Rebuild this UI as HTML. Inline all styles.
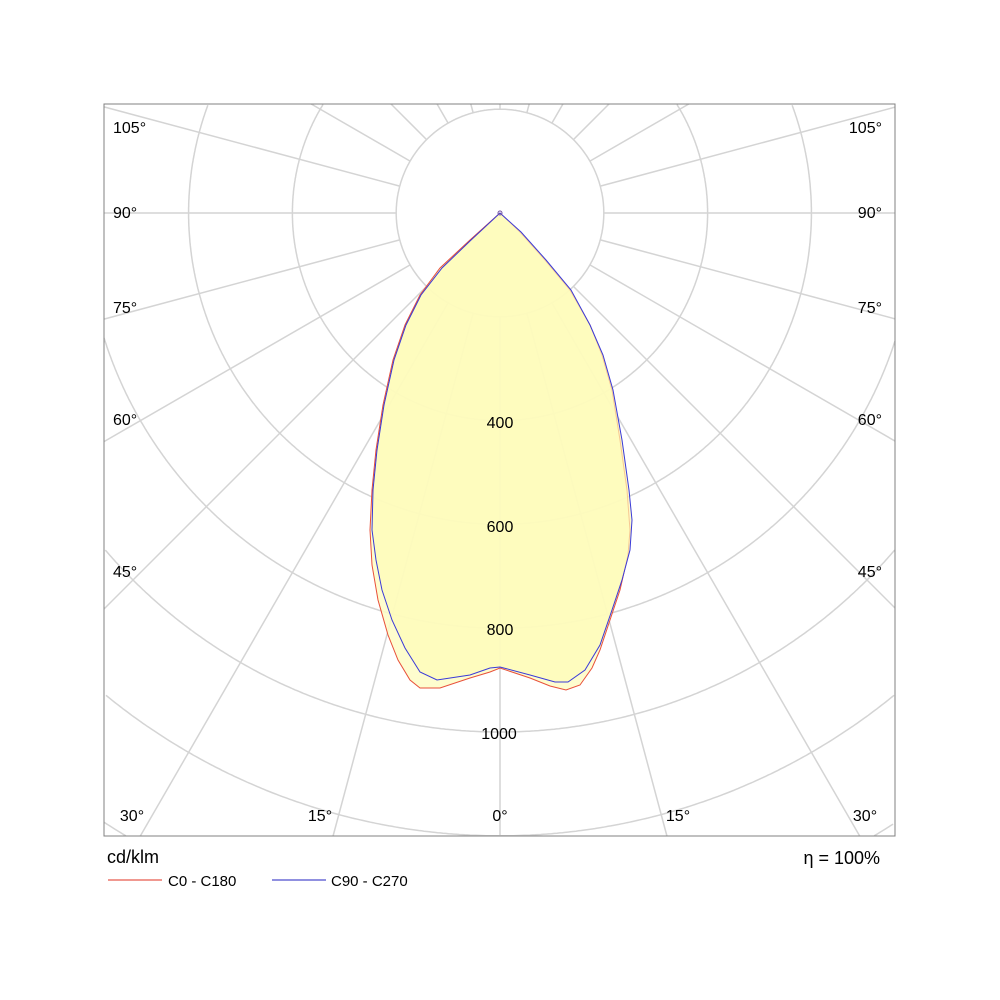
<!DOCTYPE html>
<html><head><meta charset="utf-8"><style>
html,body{margin:0;padding:0;background:#fff;width:1000px;height:1000px;overflow:hidden;}
svg{display:block;overflow:hidden;}
text{font-family:"Liberation Sans",Arial,sans-serif;fill:#000;}
</style></head><body>
<svg id="s" width="1000" height="1000" viewBox="0 0 1000 1000" xmlns="http://www.w3.org/2000/svg">
<g id="grid" stroke="#d4d4d4" stroke-width="1.5" fill="none"></g>
<g>
<path fill="#fefdc6" fill-opacity="0.85" stroke="#e8503a" stroke-width="1" d="M500,213 L470,240 L440,268 L420,295 L405,325 L393,360 L383,405 L376,450 L372,490 L370,530 L372,565 L378,600 L388,635 L398,660 L410,680 L420,688 L440,688 L470,678 L490,672 L500,668 L530,678 L550,686 L566,690 L580,685 L592,668 L600,650 L610,620 L620,590 L628,555 L630,530 L627,490 L620,440 L612,390 L602,355 L590,325 L570,290 L545,260 L520,232 Z"/>
<path fill="#fdfbb8" fill-opacity="0.7" stroke="#3a3ad8" stroke-width="1" d="M500,213 L470,241 L442,268 L421,295 L406,325 L394,360 L384,405 L377,450 L373,490 L372,530 L376,560 L382,590 L392,620 L405,648 L420,672 L437,680 L470,675 L490,668 L500,667 L530,675 L555,682 L568,682 L585,670 L600,645 L612,610 L622,580 L630,550 L632,520 L629,490 L622,440 L613,390 L603,355 L590,325 L571,290 L546,260 L521,232 Z"/>
</g>
<rect x="104" y="104" width="791" height="732" fill="none" stroke="#808080" stroke-width="1"/>
<circle cx="500" cy="213" r="2" fill="none" stroke="#7050a0"/>
<g font-size="16" text-anchor="middle">
<text x="500" y="428">400</text><text x="500" y="532">600</text><text x="500" y="635">800</text><text x="499" y="739">1000</text>
</g>
<g font-size="16">
<text x="113" y="133">105°</text><text x="113" y="218">90°</text><text x="113" y="313">75°</text><text x="113" y="425">60°</text><text x="113" y="577">45°</text>
<text x="882" y="133" text-anchor="end">105°</text><text x="882" y="218" text-anchor="end">90°</text><text x="882" y="313" text-anchor="end">75°</text><text x="882" y="425" text-anchor="end">60°</text><text x="882" y="577" text-anchor="end">45°</text>
<text x="132" y="821" text-anchor="middle">30°</text><text x="320" y="821" text-anchor="middle">15°</text><text x="500" y="821" text-anchor="middle">0°</text><text x="678" y="821" text-anchor="middle">15°</text><text x="865" y="821" text-anchor="middle">30°</text>
</g>
<text x="107" y="863" font-size="18">cd/klm</text>
<text x="880" y="864" font-size="18" text-anchor="end">η =  100%</text>
<line x1="108" y1="880" x2="162" y2="880" stroke="#e03020" stroke-width="1"/>
<text x="168" y="886" font-size="15">C0 - C180</text>
<line x1="272" y1="880" x2="326" y2="880" stroke="#2020c0" stroke-width="1"/>
<text x="331" y="886" font-size="15">C90 - C270</text>
</svg>
<script>
var g=document.getElementById('grid'),ns='http://www.w3.org/2000/svg',cx=500,cy=213,u=103.8;
var X0=104,X1=895,Y0=104,Y1=836;
function inside(x,y){return x>=X0&&x<=X1&&y>=Y0&&y<=Y1;}
for(var i=1;i<=9;i++){
  var r=u*i,segs=[],cur=[];
  for(var k=0;k<=1440;k++){var t=k/1440*2*Math.PI,x=cx+r*Math.sin(t),y=cy+r*Math.cos(t);
    if(inside(x,y)){cur.push(x.toFixed(1)+','+y.toFixed(1));}else{if(cur.length>1)segs.push(cur);cur=[];}}
  if(cur.length>1)segs.push(cur);
  segs.forEach(function(s){var p=document.createElementNS(ns,'polyline');p.setAttribute('points',s.join(' '));g.appendChild(p);});
}
for(var a=0;a<360;a+=15){var t=a*Math.PI/180,dx=Math.sin(t),dy=Math.cos(t);
  var tm=1e9;
  if(dx>1e-9)tm=Math.min(tm,(X1-cx)/dx);if(dx<-1e-9)tm=Math.min(tm,(X0-cx)/dx);
  if(dy>1e-9)tm=Math.min(tm,(Y1-cy)/dy);if(dy<-1e-9)tm=Math.min(tm,(Y0-cy)/dy);
  if(tm<=u)continue;
  var l=document.createElementNS(ns,'line');
  l.setAttribute('x1',cx+dx*u);l.setAttribute('y1',cy+dy*u);l.setAttribute('x2',cx+dx*tm);l.setAttribute('y2',cy+dy*tm);g.appendChild(l);}
</script>
</body></html>
